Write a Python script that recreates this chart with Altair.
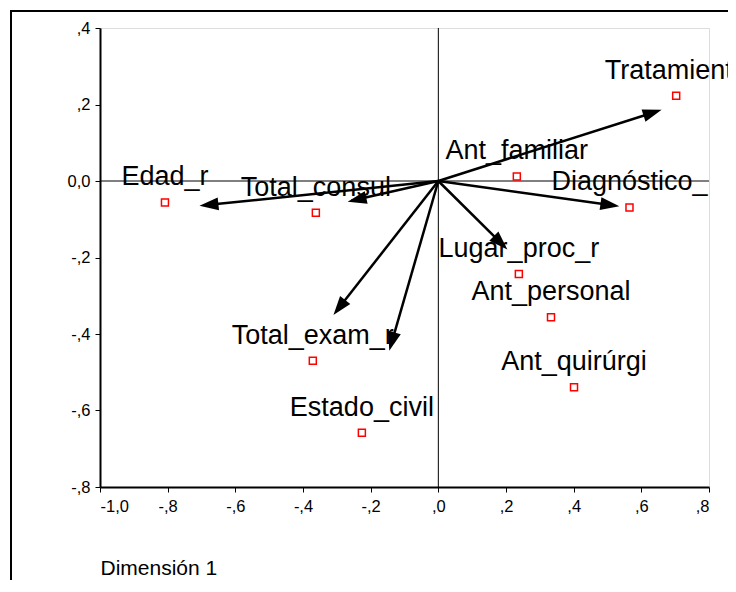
import altair as alt
import pandas as pd

# ---- data ----
labels = ["Edad_r", "Total_consul", "Ant_familiar", "Tratamiento", "Diagnóstico_",
          "Lugar_proc_r", "Ant_personal", "Ant_quirúrgi", "Total_exam_r", "Estado_civil"]
point_x = [-0.808, -0.362, 0.232, 0.703, 0.565, 0.238, 0.333, 0.401, -0.371, -0.226]
point_y = [-0.056, -0.083, 0.012, 0.223, -0.069, -0.243, -0.356, -0.539, -0.470, -0.658]

arrow_vars = ["Edad_r", "Total_consul", "Tratamiento", "Diagnóstico_",
              "Lugar_proc_r", "Total_exam_r", "Estado_civil"]
arrow_x = [-0.706, -0.268, 0.660, 0.535, 0.204, -0.310, -0.145]
arrow_y = [-0.065, -0.054, 0.186, -0.066, -0.179, -0.350, -0.444]

x_tick_values = [-1.0, -0.8, -0.6, -0.4, -0.2, 0.0, 0.2, 0.4, 0.6, 0.8]
x_tick_labels = ["-1,0", "-,8", "-,6", "-,4", "-,2", ",0", ",2", ",4", ",6", ",8"]
y_tick_values = [0.4, 0.2, 0.0, -0.2, -0.4, -0.6, -0.8]
y_tick_labels = [",4", ",2", "0,0", "-,2", "-,4", "-,6", "-,8"]

x_domain = [-1.0, 0.8]
y_domain = [-0.8, 0.4]
x_title = "Dimensión 1"

W, H = 609, 459
FONT = "Liberation Sans, Arial, sans-serif"


def label_expr(values, texts):
    expr = "''"
    for v, t in zip(reversed(values), reversed(texts)):
        expr = f"abs(datum.value - ({v})) < 0.001 ? '{t}' : ({expr})"
    return expr


points = pd.DataFrame({"label": labels, "x": point_x, "y": point_y})
arrows = pd.DataFrame({"var": arrow_vars, "ax": arrow_x, "ay": arrow_y})
zero = pd.DataFrame({"v": [0.0]})

xs = alt.Scale(domain=x_domain, nice=False, zero=False)
ys = alt.Scale(domain=y_domain, nice=False, zero=False)

x_axis = alt.Axis(values=x_tick_values, labelExpr=label_expr(x_tick_values, x_tick_labels),
                  grid=False, domainColor="black", domainWidth=2, tickColor="black",
                  tickSize=5, tickWidth=1, labelPadding=6, labelFont=FONT, labelFontSize=16.5,
                  labelColor="black", title=x_title, titleFont=FONT, titleFontSize=21,
                  titleFontWeight="normal", titleColor="black", titleAnchor="start",
                  titleAlign="left", titleBaseline="alphabetic", titleX=0, titleY=87)
y_axis = alt.Axis(values=y_tick_values, labelExpr=label_expr(y_tick_values, y_tick_labels),
                  grid=False, domainColor="black", domainWidth=2, tickColor="black",
                  tickSize=5, tickWidth=1, labelPadding=5, labelFont=FONT, labelFontSize=16.5,
                  labelColor="black", title="")

base_x = alt.X("v:Q", scale=xs, axis=x_axis)

vline = alt.Chart(zero).mark_rule(color="black", strokeWidth=1).encode(x=base_x)
hline = alt.Chart(zero).mark_rule(color="black", strokeWidth=1).encode(
    y=alt.Y("v:Q", scale=ys, axis=y_axis))

pts = alt.Chart(points).mark_point(shape="square", filled=False, color="#ff0000",
                                   size=49, strokeWidth=1.5, opacity=1).encode(
    x=alt.X("x:Q", scale=xs), y=alt.Y("y:Q", scale=ys))

txt = alt.Chart(points).mark_text(font=FONT, fontSize=27, dy=-17, align="center",
                                  baseline="alphabetic", color="black").encode(
    x=alt.X("x:Q", scale=xs), y=alt.Y("y:Q", scale=ys), text="label:N")

kx = W / (x_domain[1] - x_domain[0])
ky = H / (y_domain[1] - y_domain[0])

arrow_base = alt.Chart(arrows).transform_calculate(
    ox="0", oy="0",
    ex="datum.ax * 0.96", ey="datum.ay * 0.96",
    ang=f"(atan2(-datum.ay * {ky}, datum.ax * {kx}) * 180 / PI + 360) % 360",
)

shafts = arrow_base.mark_rule(color="black", strokeWidth=2.5).encode(
    x=alt.X("ox:Q", scale=xs), y=alt.Y("oy:Q", scale=ys),
    x2="ex:Q", y2="ey:Q")

heads = arrow_base.mark_point(shape="M0,0L-1,-0.34L-1,0.34Z", filled=True, fill="black",
                              strokeWidth=0, size=1444, opacity=1).encode(
    x=alt.X("ax:Q", scale=xs), y=alt.Y("ay:Q", scale=ys),
    angle=alt.Angle("ang:Q", scale=None))

# outer frame (runs off the page, as in the reference)
frame_left = alt.Chart(zero).mark_rule(color="black", strokeWidth=2).encode(
    x=alt.value(-89), y=alt.value(-17), y2=alt.value(560))
frame_top = alt.Chart(zero).mark_rule(color="black", strokeWidth=2).encode(
    x=alt.value(-90), x2=alt.value(640), y=alt.value(-17))

chart = alt.layer(vline, hline, pts, txt, shafts, heads, frame_left, frame_top).properties(
    width=W, height=H,
    autosize=alt.AutoSizeParams(type="none"),
    padding={"left": 92, "top": 20, "right": 19, "bottom": 93},
).configure_view(stroke="black", strokeWidth=1).configure(background="white")

chart.save("out.html", embed_options={"renderer": "svg", "actions": False})
